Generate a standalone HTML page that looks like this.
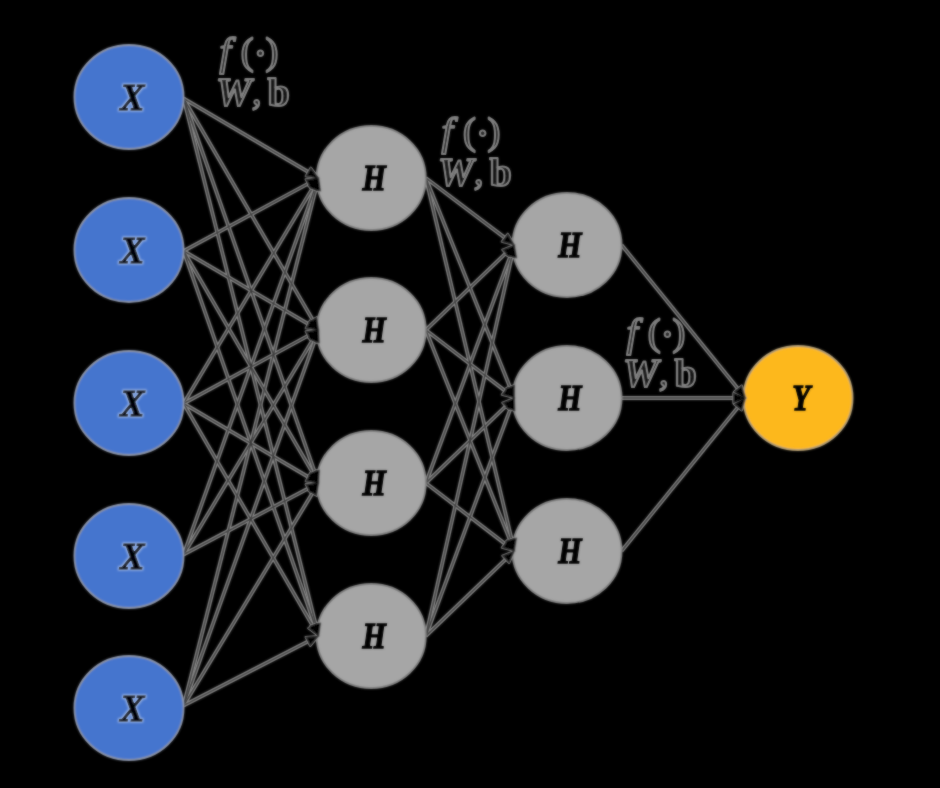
<!DOCTYPE html>
<html lang="en"><head><meta charset="utf-8"><title>Neural network</title>
<style>
html,body{margin:0;padding:0;background:#000;}
body{width:940px;height:788px;overflow:hidden;}
svg{display:block;}
text{font-family:"Liberation Serif",serif;}
.n{font-weight:bold;font-style:italic;font-size:36.5px;fill:#000;stroke:#000;stroke-width:1.3;text-anchor:middle;}
.l{fill:#000;stroke:#808080;stroke-width:2.1;stroke-linejoin:round;}
.f{font-size:41px;}
.w{font-size:40px;}
.c{font-size:38px;}
.p{font-size:38.5px;}
.d{font-size:46px;}
.i{font-style:italic;}
.b{font-weight:bold;}
</style></head><body>
<svg width="940" height="788" viewBox="0 0 940 788">
<defs><filter id="bl" x="0" y="0" width="940" height="788" filterUnits="userSpaceOnUse"><feGaussianBlur stdDeviation="0.9" result="b"/><feComposite in="SourceGraphic" in2="b" operator="arithmetic" k1="0" k2="0.3" k3="0.7" k4="0"/></filter><filter id="b2" x="0" y="0" width="940" height="788" filterUnits="userSpaceOnUse"><feGaussianBlur stdDeviation="0.85" result="b"/><feComposite in="SourceGraphic" in2="b" operator="arithmetic" k1="0" k2="0.45" k3="0.55" k4="0"/></filter><filter id="hx" x="0" y="0" width="940" height="788" filterUnits="userSpaceOnUse"><feMorphology in="SourceAlpha" operator="dilate" radius="1" result="d"/><feGaussianBlur in="d" stdDeviation="0.9" result="db"/><feFlood flood-color="#b9cdf3" flood-opacity="0.6"/><feComposite in2="db" operator="in" result="halo"/><feGaussianBlur in="SourceGraphic" stdDeviation="0.85" result="sb"/><feComposite in="SourceGraphic" in2="sb" operator="arithmetic" k1="0" k2="0.45" k3="0.55" k4="0" result="s2"/><feMerge><feMergeNode in="halo"/><feMergeNode in="s2"/></feMerge></filter></defs>
<rect width="940" height="788" fill="#000"/>
<g filter="url(#b2)">
<g class="l" transform="translate(217.4,36)">
<text class="f" y="29"><tspan class="i" x="2">f</tspan><tspan class="p" x="23.3" dy="-1">(</tspan><tspan class="d" x="35.3" dy="4.5">·</tspan><tspan class="p" x="48" dy="-4.5">)</tspan></text>
<text class="w" y="68.5"><tspan class="i b" x="-1.5">W</tspan><tspan class="i c" x="34.5" dy="-1">, </tspan><tspan class="b" x="50" dy="2">b</tspan></text>
</g>
<g class="l" transform="translate(439.6,116.3)">
<text class="f" y="29"><tspan class="i" x="2">f</tspan><tspan class="p" x="23.3" dy="-1">(</tspan><tspan class="d" x="35.3" dy="4.5">·</tspan><tspan class="p" x="48" dy="-4.5">)</tspan></text>
<text class="w" y="68.5"><tspan class="i b" x="-1.5">W</tspan><tspan class="i c" x="34.5" dy="-1">, </tspan><tspan class="b" x="50" dy="2">b</tspan></text>
</g>
<g class="l" transform="translate(624.4,317.3)">
<text class="f" y="29"><tspan class="i" x="2">f</tspan><tspan class="p" x="23.3" dy="-1">(</tspan><tspan class="d" x="35.3" dy="4.5">·</tspan><tspan class="p" x="48" dy="-4.5">)</tspan></text>
<text class="w" y="68.5"><tspan class="i b" x="-1.5">W</tspan><tspan class="i c" x="34.5" dy="-1">, </tspan><tspan class="b" x="50" dy="2">b</tspan></text>
</g>
</g>
<g filter="url(#bl)">
<g stroke="#8c8c8c" stroke-width="3.9" fill="none">
<line x1="183.6" y1="98.5" x2="313.43" y2="174.96"/>
<line x1="183.6" y1="98.5" x2="315.58" y2="324.82"/>
<line x1="183.6" y1="98.5" x2="316.61" y2="477.34"/>
<line x1="183.6" y1="98.5" x2="317.14" y2="630.18"/>
<line x1="183.6" y1="251" x2="313.32" y2="180.85"/>
<line x1="183.6" y1="251" x2="313.42" y2="326.97"/>
<line x1="183.6" y1="251" x2="315.58" y2="477.81"/>
<line x1="183.6" y1="251" x2="316.61" y2="630.34"/>
<line x1="183.6" y1="403.5" x2="315.52" y2="183.15"/>
<line x1="183.6" y1="403.5" x2="313.33" y2="332.87"/>
<line x1="183.6" y1="403.5" x2="313.43" y2="479.96"/>
<line x1="183.6" y1="403.5" x2="315.59" y2="630.81"/>
<line x1="183.6" y1="554.5" x2="316.57" y2="183.65"/>
<line x1="183.6" y1="554.5" x2="315.51" y2="335.14"/>
<line x1="183.6" y1="554.5" x2="313.30" y2="485.81"/>
<line x1="183.6" y1="705.5" x2="317.11" y2="183.81"/>
<line x1="183.6" y1="705.5" x2="316.57" y2="335.65"/>
<line x1="183.6" y1="705.5" x2="315.49" y2="488.13"/>
<line x1="183.6" y1="705.5" x2="313.27" y2="638.75"/>
<line x1="425.8" y1="178" x2="509.61" y2="241.38"/>
<line x1="425.8" y1="178" x2="512.16" y2="392.43"/>
<line x1="425.8" y1="178" x2="513.01" y2="545.16"/>
<line x1="425.8" y1="330" x2="510.07" y2="249.15"/>
<line x1="425.8" y1="330" x2="509.64" y2="394.35"/>
<line x1="425.8" y1="330" x2="512.17" y2="545.43"/>
<line x1="425.8" y1="483" x2="512.31" y2="250.62"/>
<line x1="425.8" y1="483" x2="510.07" y2="402.15"/>
<line x1="425.8" y1="483" x2="509.64" y2="547.35"/>
<line x1="425.8" y1="636" x2="513.07" y2="250.85"/>
<line x1="425.8" y1="636" x2="512.31" y2="403.62"/>
<line x1="425.8" y1="636" x2="510.07" y2="555.15"/>
<line x1="621.6" y1="245" x2="741.63" y2="393.34"/>
<line x1="621.6" y1="398" x2="739.40" y2="398.00"/>
<line x1="621.6" y1="551" x2="741.63" y2="402.66"/>
</g>
<g stroke="#303030" stroke-width="1.3" fill="none">
<line x1="183.6" y1="98.5" x2="313.43" y2="174.96"/>
<line x1="183.6" y1="98.5" x2="315.58" y2="324.82"/>
<line x1="183.6" y1="98.5" x2="316.61" y2="477.34"/>
<line x1="183.6" y1="98.5" x2="317.14" y2="630.18"/>
<line x1="183.6" y1="251" x2="313.32" y2="180.85"/>
<line x1="183.6" y1="251" x2="313.42" y2="326.97"/>
<line x1="183.6" y1="251" x2="315.58" y2="477.81"/>
<line x1="183.6" y1="251" x2="316.61" y2="630.34"/>
<line x1="183.6" y1="403.5" x2="315.52" y2="183.15"/>
<line x1="183.6" y1="403.5" x2="313.33" y2="332.87"/>
<line x1="183.6" y1="403.5" x2="313.43" y2="479.96"/>
<line x1="183.6" y1="403.5" x2="315.59" y2="630.81"/>
<line x1="183.6" y1="554.5" x2="316.57" y2="183.65"/>
<line x1="183.6" y1="554.5" x2="315.51" y2="335.14"/>
<line x1="183.6" y1="554.5" x2="313.30" y2="485.81"/>
<line x1="183.6" y1="705.5" x2="317.11" y2="183.81"/>
<line x1="183.6" y1="705.5" x2="316.57" y2="335.65"/>
<line x1="183.6" y1="705.5" x2="315.49" y2="488.13"/>
<line x1="183.6" y1="705.5" x2="313.27" y2="638.75"/>
<line x1="425.8" y1="178" x2="509.61" y2="241.38"/>
<line x1="425.8" y1="178" x2="512.16" y2="392.43"/>
<line x1="425.8" y1="178" x2="513.01" y2="545.16"/>
<line x1="425.8" y1="330" x2="510.07" y2="249.15"/>
<line x1="425.8" y1="330" x2="509.64" y2="394.35"/>
<line x1="425.8" y1="330" x2="512.17" y2="545.43"/>
<line x1="425.8" y1="483" x2="512.31" y2="250.62"/>
<line x1="425.8" y1="483" x2="510.07" y2="402.15"/>
<line x1="425.8" y1="483" x2="509.64" y2="547.35"/>
<line x1="425.8" y1="636" x2="513.07" y2="250.85"/>
<line x1="425.8" y1="636" x2="512.31" y2="403.62"/>
<line x1="425.8" y1="636" x2="510.07" y2="555.15"/>
<line x1="621.6" y1="245" x2="741.63" y2="393.34"/>
<line x1="621.6" y1="398" x2="739.40" y2="398.00"/>
<line x1="621.6" y1="551" x2="741.63" y2="402.66"/>
</g>
<ellipse cx="129" cy="97" rx="54.6" ry="52.0" fill="#4474ce" stroke="#8f99ad" stroke-width="1.8"/>
<ellipse cx="129" cy="250" rx="54.6" ry="52.0" fill="#4474ce" stroke="#8f99ad" stroke-width="1.8"/>
<ellipse cx="129" cy="403" rx="54.6" ry="52.0" fill="#4474ce" stroke="#8f99ad" stroke-width="1.8"/>
<ellipse cx="129" cy="556" rx="54.6" ry="52.0" fill="#4474ce" stroke="#8f99ad" stroke-width="1.8"/>
<ellipse cx="129" cy="708" rx="54.6" ry="52.0" fill="#4474ce" stroke="#8f99ad" stroke-width="1.8"/>
<ellipse cx="371.2" cy="178" rx="54.6" ry="52.0" fill="#a6a6a6" stroke="#878787" stroke-width="1.8"/>
<ellipse cx="371.2" cy="330" rx="54.6" ry="52.0" fill="#a6a6a6" stroke="#878787" stroke-width="1.8"/>
<ellipse cx="371.2" cy="483" rx="54.6" ry="52.0" fill="#a6a6a6" stroke="#878787" stroke-width="1.8"/>
<ellipse cx="371.2" cy="636" rx="54.6" ry="52.0" fill="#a6a6a6" stroke="#878787" stroke-width="1.8"/>
<ellipse cx="567" cy="245" rx="54.6" ry="52.0" fill="#a6a6a6" stroke="#878787" stroke-width="1.8"/>
<ellipse cx="567" cy="398" rx="54.6" ry="52.0" fill="#a6a6a6" stroke="#878787" stroke-width="1.8"/>
<ellipse cx="567" cy="551" rx="54.6" ry="52.0" fill="#a6a6a6" stroke="#878787" stroke-width="1.8"/>
<ellipse cx="798" cy="398" rx="54.6" ry="52.0" fill="#fdb81e" stroke="#b8a377" stroke-width="1.8"/>
<g fill="#000" stroke="#8a8a8a" stroke-width="2.2" stroke-linejoin="round">
<path d="M-12,-5 L0,0 L-12,5 Z" transform="translate(318.59999999999997,178) rotate(30.49)"/>
<path d="M-12,-5 L0,0 L-12,5 Z" transform="translate(318.59999999999997,330) rotate(59.75)"/>
<path d="M-12,-5 L0,0 L-12,5 Z" transform="translate(318.59999999999997,483) rotate(70.65)"/>
<path d="M-12,-5 L0,0 L-12,5 Z" transform="translate(318.59999999999997,636) rotate(75.90)"/>
<path d="M-12,-5 L0,0 L-12,5 Z" transform="translate(318.59999999999997,178) rotate(-28.40)"/>
<path d="M-12,-5 L0,0 L-12,5 Z" transform="translate(318.59999999999997,330) rotate(30.34)"/>
<path d="M-12,-5 L0,0 L-12,5 Z" transform="translate(318.59999999999997,483) rotate(59.81)"/>
<path d="M-12,-5 L0,0 L-12,5 Z" transform="translate(318.59999999999997,636) rotate(70.68)"/>
<path d="M-12,-5 L0,0 L-12,5 Z" transform="translate(318.59999999999997,178) rotate(-59.09)"/>
<path d="M-12,-5 L0,0 L-12,5 Z" transform="translate(318.59999999999997,330) rotate(-28.57)"/>
<path d="M-12,-5 L0,0 L-12,5 Z" transform="translate(318.59999999999997,483) rotate(30.49)"/>
<path d="M-12,-5 L0,0 L-12,5 Z" transform="translate(318.59999999999997,636) rotate(59.86)"/>
<path d="M-12,-5 L0,0 L-12,5 Z" transform="translate(318.59999999999997,178) rotate(-70.27)"/>
<path d="M-12,-5 L0,0 L-12,5 Z" transform="translate(318.59999999999997,330) rotate(-58.98)"/>
<path d="M-12,-5 L0,0 L-12,5 Z" transform="translate(318.59999999999997,483) rotate(-27.91)"/>
<path d="M-12,-5 L0,0 L-12,5 Z" transform="translate(318.59999999999997,178) rotate(-75.64)"/>
<path d="M-12,-5 L0,0 L-12,5 Z" transform="translate(318.59999999999997,330) rotate(-70.23)"/>
<path d="M-12,-5 L0,0 L-12,5 Z" transform="translate(318.59999999999997,483) rotate(-58.75)"/>
<path d="M-12,-5 L0,0 L-12,5 Z" transform="translate(318.59999999999997,636) rotate(-27.24)"/>
<path d="M-12,-5 L0,0 L-12,5 Z" transform="translate(514.4,245) rotate(37.10)"/>
<path d="M-12,-5 L0,0 L-12,5 Z" transform="translate(514.4,398) rotate(68.06)"/>
<path d="M-12,-5 L0,0 L-12,5 Z" transform="translate(514.4,551) rotate(76.64)"/>
<path d="M-12,-5 L0,0 L-12,5 Z" transform="translate(514.4,245) rotate(-43.81)"/>
<path d="M-12,-5 L0,0 L-12,5 Z" transform="translate(514.4,398) rotate(37.51)"/>
<path d="M-12,-5 L0,0 L-12,5 Z" transform="translate(514.4,551) rotate(68.15)"/>
<path d="M-12,-5 L0,0 L-12,5 Z" transform="translate(514.4,245) rotate(-69.58)"/>
<path d="M-12,-5 L0,0 L-12,5 Z" transform="translate(514.4,398) rotate(-43.81)"/>
<path d="M-12,-5 L0,0 L-12,5 Z" transform="translate(514.4,551) rotate(37.51)"/>
<path d="M-12,-5 L0,0 L-12,5 Z" transform="translate(514.4,245) rotate(-77.23)"/>
<path d="M-12,-5 L0,0 L-12,5 Z" transform="translate(514.4,398) rotate(-69.58)"/>
<path d="M-12,-5 L0,0 L-12,5 Z" transform="translate(514.4,551) rotate(-43.81)"/>
<path d="M-12,-5 L0,0 L-12,5 Z" transform="translate(745.4,398) rotate(51.02)"/>
<path d="M-12,-5 L0,0 L-12,5 Z" transform="translate(745.4,398) rotate(0.00)"/>
<path d="M-12,-5 L0,0 L-12,5 Z" transform="translate(745.4,398) rotate(-51.02)"/>
</g>
<g fill="#000" stroke="#000" stroke-width="0.3">
<path d="M-12,-5 L0,0 L-12,5 Z" transform="translate(318.59999999999997,178) rotate(30.49)"/>
<path d="M-12,-5 L0,0 L-12,5 Z" transform="translate(318.59999999999997,330) rotate(59.75)"/>
<path d="M-12,-5 L0,0 L-12,5 Z" transform="translate(318.59999999999997,483) rotate(70.65)"/>
<path d="M-12,-5 L0,0 L-12,5 Z" transform="translate(318.59999999999997,636) rotate(75.90)"/>
<path d="M-12,-5 L0,0 L-12,5 Z" transform="translate(318.59999999999997,178) rotate(-28.40)"/>
<path d="M-12,-5 L0,0 L-12,5 Z" transform="translate(318.59999999999997,330) rotate(30.34)"/>
<path d="M-12,-5 L0,0 L-12,5 Z" transform="translate(318.59999999999997,483) rotate(59.81)"/>
<path d="M-12,-5 L0,0 L-12,5 Z" transform="translate(318.59999999999997,636) rotate(70.68)"/>
<path d="M-12,-5 L0,0 L-12,5 Z" transform="translate(318.59999999999997,178) rotate(-59.09)"/>
<path d="M-12,-5 L0,0 L-12,5 Z" transform="translate(318.59999999999997,330) rotate(-28.57)"/>
<path d="M-12,-5 L0,0 L-12,5 Z" transform="translate(318.59999999999997,483) rotate(30.49)"/>
<path d="M-12,-5 L0,0 L-12,5 Z" transform="translate(318.59999999999997,636) rotate(59.86)"/>
<path d="M-12,-5 L0,0 L-12,5 Z" transform="translate(318.59999999999997,178) rotate(-70.27)"/>
<path d="M-12,-5 L0,0 L-12,5 Z" transform="translate(318.59999999999997,330) rotate(-58.98)"/>
<path d="M-12,-5 L0,0 L-12,5 Z" transform="translate(318.59999999999997,483) rotate(-27.91)"/>
<path d="M-12,-5 L0,0 L-12,5 Z" transform="translate(318.59999999999997,178) rotate(-75.64)"/>
<path d="M-12,-5 L0,0 L-12,5 Z" transform="translate(318.59999999999997,330) rotate(-70.23)"/>
<path d="M-12,-5 L0,0 L-12,5 Z" transform="translate(318.59999999999997,483) rotate(-58.75)"/>
<path d="M-12,-5 L0,0 L-12,5 Z" transform="translate(318.59999999999997,636) rotate(-27.24)"/>
<path d="M-12,-5 L0,0 L-12,5 Z" transform="translate(514.4,245) rotate(37.10)"/>
<path d="M-12,-5 L0,0 L-12,5 Z" transform="translate(514.4,398) rotate(68.06)"/>
<path d="M-12,-5 L0,0 L-12,5 Z" transform="translate(514.4,551) rotate(76.64)"/>
<path d="M-12,-5 L0,0 L-12,5 Z" transform="translate(514.4,245) rotate(-43.81)"/>
<path d="M-12,-5 L0,0 L-12,5 Z" transform="translate(514.4,398) rotate(37.51)"/>
<path d="M-12,-5 L0,0 L-12,5 Z" transform="translate(514.4,551) rotate(68.15)"/>
<path d="M-12,-5 L0,0 L-12,5 Z" transform="translate(514.4,245) rotate(-69.58)"/>
<path d="M-12,-5 L0,0 L-12,5 Z" transform="translate(514.4,398) rotate(-43.81)"/>
<path d="M-12,-5 L0,0 L-12,5 Z" transform="translate(514.4,551) rotate(37.51)"/>
<path d="M-12,-5 L0,0 L-12,5 Z" transform="translate(514.4,245) rotate(-77.23)"/>
<path d="M-12,-5 L0,0 L-12,5 Z" transform="translate(514.4,398) rotate(-69.58)"/>
<path d="M-12,-5 L0,0 L-12,5 Z" transform="translate(514.4,551) rotate(-43.81)"/>
<path d="M-12,-5 L0,0 L-12,5 Z" transform="translate(745.4,398) rotate(51.02)"/>
<path d="M-12,-5 L0,0 L-12,5 Z" transform="translate(745.4,398) rotate(0.00)"/>
<path d="M-12,-5 L0,0 L-12,5 Z" transform="translate(745.4,398) rotate(-51.02)"/>
</g>
</g>
<g filter="url(#hx)">
<text class="n" style="font-size:38.5px" transform="translate(132.2,109.7) scale(0.94,1)">X</text>
<text class="n" style="font-size:38.5px" transform="translate(132.2,262.7) scale(0.94,1)">X</text>
<text class="n" style="font-size:38.5px" transform="translate(132.2,415.7) scale(0.94,1)">X</text>
<text class="n" style="font-size:38.5px" transform="translate(132.2,568.7) scale(0.94,1)">X</text>
<text class="n" style="font-size:38.5px" transform="translate(132.2,720.7) scale(0.94,1)">X</text>
</g>
<g filter="url(#b2)">
<text class="n" transform="translate(374.2,190.0) scale(0.82,1)">H</text>
<text class="n" transform="translate(374.2,342.0) scale(0.82,1)">H</text>
<text class="n" transform="translate(374.2,495.0) scale(0.82,1)">H</text>
<text class="n" transform="translate(374.2,648.0) scale(0.82,1)">H</text>
<text class="n" transform="translate(570.0,257.0) scale(0.82,1)">H</text>
<text class="n" transform="translate(570.0,410.0) scale(0.82,1)">H</text>
<text class="n" transform="translate(570.0,563.0) scale(0.82,1)">H</text>
<text class="n" transform="translate(801.2,410.3) scale(0.8,1)">Y</text>
</g>
</svg></body></html>
